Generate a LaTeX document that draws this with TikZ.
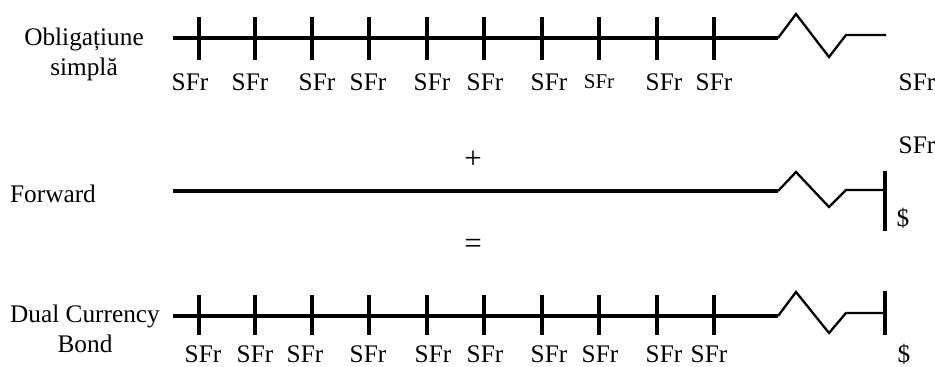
\documentclass[tikz,border=0pt]{standalone}
\usepackage{fontspec}
\setmainfont{Liberation Serif}
\begin{document}
\begin{tikzpicture}[x=1pt,y=-1pt,
  lbl/.style={inner sep=0pt, anchor=base, font=\fontsize{25.3}{29}\selectfont},
  smalllbl/.style={inner sep=0pt, anchor=base, font=\fontsize{21}{25}\selectfont},
  oplbl/.style={inner sep=0pt, anchor=center, font=\fontsize{31}{35}\selectfont},
  axisline/.style={line width=3.5pt},
  tickline/.style={line width=3.5pt},
  zigline/.style={line width=2.3pt, line join=miter},
  barline/.style={line width=3.5pt}]
\useasboundingbox (0,0) rectangle (935,367);

% ---- Row 1: Obligatiune simpla
\node[lbl] (o1) at (84,45) {Obligațiune};
\node[lbl] (o2) at (84,75) {simplă};
\draw[axisline] (173,38) -- (778,38);
\foreach \x in {199,255,312,369,427,484,542,599,657,714}
  \draw[tickline] (\x,17) -- (\x,60);
\draw[zigline] (778,38) -- (796,14) -- (829,57) -- (846,35) -- (886,35);
\foreach \x/\n in {190/a1,250/a2,317/a3,368/a4,432/a5,485/a6,549/a7,664/a9,714/a10}
  \node[lbl] (t\n) at (\x,90) {SFr};
\node[smalllbl] (ta8) at (599,88) {SFr};
\node[lbl] (ta11) at (917,90) {SFr};

% ---- plus
\node[oplbl] (plus) at (473,160) {+};

% ---- Row 2: Forward
\node[lbl] (fw) at (53,202) {Forward};
\draw[axisline] (173,191) -- (778,191);
\draw[zigline] (778,191) -- (796,172) -- (829,207) -- (846,190) -- (885,190);
\draw[barline] (885,171) -- (885,231);
\node[lbl] (fsfr) at (917,153) {SFr};
\node[lbl] (fdol) at (903,226) {\$};

% ---- equals
\node[oplbl] (eq) at (473,246) {=};

% ---- Row 3: Dual Currency Bond
\node[lbl] (d1) at (85,322) {Dual Currency};
\node[lbl] (d2) at (85,352) {Bond};
\draw[axisline] (173,316) -- (778,316);
\foreach \x in {199,255,312,369,427,484,542,599,657,714}
  \draw[tickline] (\x,295) -- (\x,335);
\draw[zigline] (778,316) -- (796,292) -- (829,333) -- (846,313) -- (885,313);
\draw[barline] (885,291) -- (885,335);
\foreach \x/\n in {203/b1,255/b2,305/b3,368/b4,433/b5,485/b6,549/b7,600/b8,664/b9,709/b10}
  \node[lbl] (t\n) at (\x,362) {SFr};
\node[lbl] (bdol) at (904,362) {\$};
\end{tikzpicture}
\end{document}
